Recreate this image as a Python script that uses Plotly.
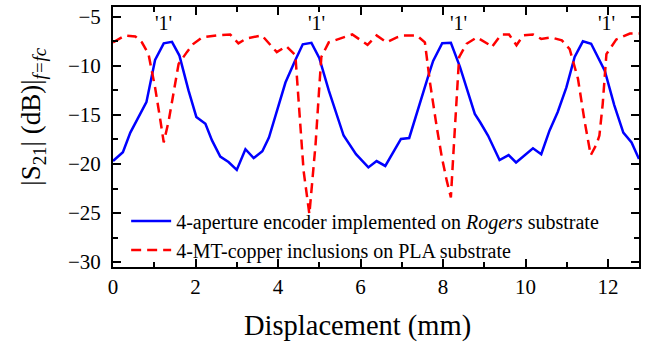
import plotly.graph_objects as go

blue_x = [0, 0.24, 0.42, 0.81, 1.02, 1.23, 1.43, 1.61, 1.83, 2.02, 2.24, 2.4, 2.6, 2.8, 3.0,
          3.21, 3.41, 3.62, 3.78, 3.98, 4.18, 4.41, 4.6, 4.81, 5.0, 5.23, 5.59, 5.89, 6.19,
          6.39, 6.6, 6.98, 7.18, 7.66, 7.76, 7.98, 8.19, 8.41, 8.77, 8.9, 9.09, 9.37, 9.59,
          9.77, 9.98, 10.18, 10.38, 10.58, 10.78, 10.99, 11.19, 11.39, 11.59, 11.92, 12.15,
          12.37, 12.57, 12.75]
blue_y = [-19.7, -18.8, -16.8, -13.7, -9.4, -7.7, -7.55, -8.95, -12.5, -15.2, -15.9, -17.6,
          -19.25, -19.8, -20.6, -18.5, -19.4, -18.7, -17.3, -14.4, -11.7, -9.5, -7.8, -7.65,
          -9.2, -12.5, -17.1, -19.0, -20.35, -19.7, -20.2, -17.45, -17.35, -10.8, -9.5, -7.7,
          -7.65, -10.1, -14.9, -15.75, -17.1, -19.6, -19.1, -19.85, -19.15, -18.4, -19.0,
          -16.6, -14.7, -12.2, -9.1, -7.5, -7.75, -10.5, -14.0, -16.8, -17.8, -19.5]

red_x = [0, 0.3, 0.54, 0.7, 0.86, 1.02, 1.15, 1.23, 1.35, 1.47, 1.59, 1.79, 1.95, 2.16, 2.52,
         2.84, 3.04, 3.24, 3.61, 3.97, 4.2, 4.42, 4.54, 4.62, 4.76, 4.83, 4.91, 5.0, 5.05,
         5.23, 5.47, 5.8, 6.17, 6.39, 6.63, 6.88, 7.04, 7.36, 7.56, 7.68, 7.85, 7.97, 8.09,
         8.19, 8.25, 8.33, 8.39, 8.57, 8.82, 9.1, 9.18, 9.41, 9.6, 9.78, 9.94, 10.18, 10.38,
         10.62, 10.88, 11.07, 11.27, 11.43, 11.58, 11.72, 11.79, 11.87, 11.96, 12.2, 12.53,
         12.75]
red_y = [-7.6, -6.9, -7.0, -7.6, -8.8, -12.2, -15.6, -17.8, -15.6, -12.5, -9.8, -8.6, -7.75,
         -7.1, -6.9, -6.8, -7.7, -7.2, -6.9, -8.6, -8.0, -8.9, -16.6, -20.7, -25.1, -21.4,
         -18.0, -12.2, -9.1, -7.6, -7.25, -6.8, -7.85, -6.9, -7.6, -7.1, -6.9, -6.9, -7.6,
         -11.6, -16.3, -19.3, -21.7, -23.4, -19.0, -13.9, -9.1, -7.75, -7.1, -7.8, -8.1,
         -6.8, -6.8, -7.9, -6.9, -6.8, -7.25, -7.1, -7.4, -8.3, -11.3, -15.6, -19.1, -18.0,
         -17.1, -13.9, -8.8, -7.3, -6.7, -6.7]

label_x = [1.22, 4.94, 8.37, 11.96]
label_y = -5.6
label_text = "'1'"

x_ticks = [0, 2, 4, 6, 8, 10, 12]
y_ticks = [-30, -25, -20, -15, -10, -5]

x_title = "Displacement (mm)"
y_title = "|S<sub>21</sub>| (dB)|<sub><i>f=fc</i></sub>"

FONT = "Liberation Serif"

fig = go.Figure()
fig.add_trace(go.Scatter(
    x=blue_x, y=blue_y, mode="lines",
    name="4-aperture encoder implemented on <i>Rogers</i> substrate",
    line=dict(color="#0000FF", width=2.5)))
fig.add_trace(go.Scatter(
    x=red_x, y=red_y, mode="lines",
    name="4-MT-copper inclusions on PLA substrate",
    line=dict(color="#FF0000", width=2.5, dash="10px,6px")))

for lx in label_x:
    fig.add_annotation(x=lx, y=label_y, text=label_text, showarrow=False,
                       font=dict(family=FONT, size=20, color="black"))

# axis titles placed as annotations (positioned like the reference)
fig.add_annotation(xref="paper", yref="paper", x=0.464, y=-0.225,
                   xanchor="center", yanchor="middle", text=x_title, showarrow=False,
                   font=dict(family=FONT, size=28.5, color="black"))
fig.add_annotation(xref="paper", yref="paper", x=-0.151, y=0.58,
                   xanchor="center", yanchor="middle", text=y_title, showarrow=False,
                   textangle=-90, font=dict(family=FONT, size=27, color="black"))

axis_common = dict(
    showline=True, linecolor="black", linewidth=2, mirror="ticks",
    ticks="inside", ticklen=8, tickwidth=1.5, tickcolor="black",
    showgrid=False, zeroline=False,
    tickfont=dict(family=FONT, size=21, color="black"),
)

fig.update_xaxes(
    range=[0, 12.75], tickvals=x_ticks,
    minor=dict(dtick=1, ticks="inside", ticklen=5, tickwidth=1.5, tickcolor="black"),
    **axis_common)
fig.update_yaxes(
    range=[-30.5, -4], tickvals=y_ticks,
    minor=dict(dtick=2.5, ticks="inside", ticklen=5, tickwidth=1.5, tickcolor="black"),
    ticklabelstandoff=6,
    **axis_common)

fig.update_layout(
    width=660, height=347,
    margin=dict(l=113, r=21, t=5, b=80),
    plot_bgcolor="white", paper_bgcolor="white",
    font=dict(family=FONT, color="black"),
    legend=dict(x=0.025, y=-0.01, xanchor="left", yanchor="bottom",
                bgcolor="rgba(0,0,0,0)", borderwidth=0,
                font=dict(family=FONT, size=20, color="black"),
                tracegroupgap=0, itemwidth=40),
)

fig.write_html("out.html", config={"displayModeBar": False},
               post_script="document.body.style.margin='0';")
